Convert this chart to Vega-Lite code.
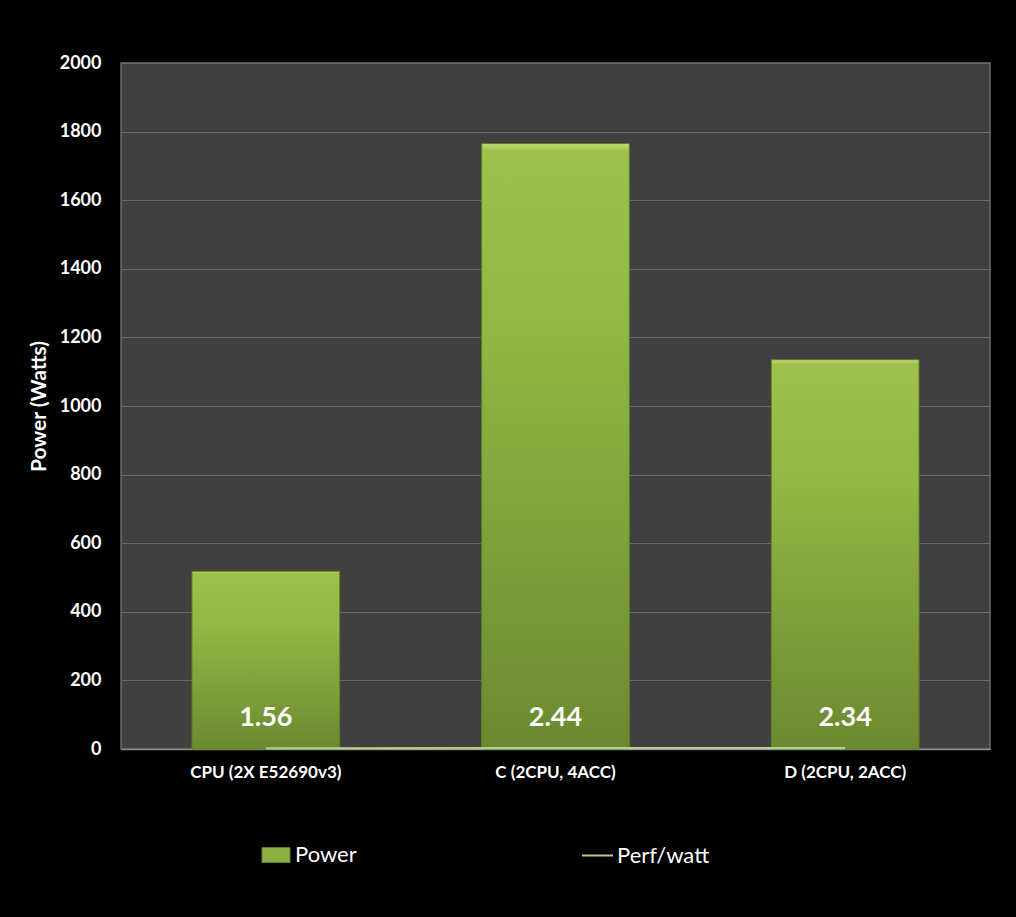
{
  "$schema": "https://vega.github.io/schema/vega-lite/v6.json",
  "autosize": {"type": "none"},
  "width": 869,
  "height": 686,
  "padding": {"left": 121, "top": 63, "right": 26, "bottom": 168},
  "background": "#000000",
  "config": {
    "font": "Lato",
    "view": {"fill": "#404040", "stroke": "#6c6c6c", "strokeWidth": 1.5}
  },
  "data": {
    "values": [
      {"config": "CPU (2X E52690v3)", "power": 518, "perf": 1.56, "s1": "Power", "s2": "Perf/watt"},
      {"config": "C (2CPU, 4ACC)", "power": 1765, "perf": 2.44, "s1": "Power", "s2": "Perf/watt"},
      {"config": "D (2CPU, 2ACC)", "power": 1135, "perf": 2.34, "s1": "Power", "s2": "Perf/watt"}
    ]
  },
  "encoding": {
    "x": {
      "field": "config",
      "type": "nominal",
      "sort": null,
      "scale": {"paddingInner": 0.49, "paddingOuter": 0.245},
      "axis": {
        "title": null,
        "labelAngle": 0,
        "labelColor": "#ffffff",
        "labelFont": "Lato",
        "labelFontWeight": "bold",
        "labelFontSize": 17,
        "labelPadding": 15,
        "ticks": false,
        "domainColor": "#8a8a8a",
        "domainWidth": 1.5
      }
    }
  },
  "layer": [
    {
      "mark": {"type": "bar", "opacity": 1},
      "encoding": {
        "y": {
          "field": "power",
          "type": "quantitative",
          "scale": {"domain": [0, 2000]},
          "axis": {
            "title": "Power (Watts)",
            "titleColor": "#ffffff",
            "titleFont": "Lato",
            "titleFontWeight": "bold",
            "titleFontSize": 21,
            "titlePadding": 10,
            "format": "d",
            "values": [0, 200, 400, 600, 800, 1000, 1200, 1400, 1600, 1800, 2000],
            "labelColor": "#ffffff",
            "labelFont": "Lato",
            "labelFontWeight": "bold",
            "labelFontSize": 18,
            "labelPadding": 20,
            "ticks": false,
            "domain": false,
            "gridColor": "#6a6a6a",
            "gridWidth": 1.2
          }
        },
        "fill": {
          "field": "s1",
          "type": "nominal",
          "scale": {"range": ["#8db043"]},
          "legend": {
            "title": null,
            "orient": "none",
            "legendX": 144,
            "legendY": 781,
            "symbolType": "M-1.4,-0.75H1.4V0.75H-1.4Z",
            "symbolSize": 400,
            "symbolStrokeColor": "#5f7f25",
            "symbolStrokeWidth": 1,
            "labelColor": "#ffffff",
            "labelFont": "Lato",
            "labelFontSize": 22,
            "labelOffset": 8
          }
        }
      }
    },
    {
      "mark": {
        "type": "bar",
        "stroke": "#5c7a22",
        "strokeWidth": 1,
        "fill": {
          "x1": 0, "y1": 0, "x2": 0, "y2": 1,
          "gradient": "linear",
          "stops": [
            {"offset": 0, "color": "#c4e07a"},
            {"offset": 0.012, "color": "#9cc24c"},
            {"offset": 0.3, "color": "#92b845"},
            {"offset": 1, "color": "#6b8a30"}
          ]
        }
      },
      "encoding": {
        "y": {"field": "power", "type": "quantitative"}
      }
    },
    {
      "mark": {"type": "line", "strokeWidth": 2.2},
      "encoding": {
        "y": {"field": "perf", "type": "quantitative"},
        "stroke": {
          "field": "s2",
          "type": "nominal",
          "scale": {"range": ["#b3d08a"]},
          "legend": {
            "title": null,
            "orient": "none",
            "legendX": 460,
            "legendY": 776,
            "symbolType": "stroke",
            "symbolSize": 961,
            "symbolStrokeWidth": 2,
            "labelColor": "#ffffff",
            "labelFont": "Lato",
            "labelFontSize": 22,
            "labelOffset": 3
          }
        }
      }
    },
    {
      "mark": {"type": "text", "color": "#ffffff", "fontWeight": "bold", "fontSize": 27, "font": "Lato", "baseline": "middle", "dy": -31},
      "encoding": {
        "y": {"datum": 0, "type": "quantitative"},
        "text": {"field": "perf", "type": "quantitative", "format": ".2f"}
      }
    }
  ]
}
